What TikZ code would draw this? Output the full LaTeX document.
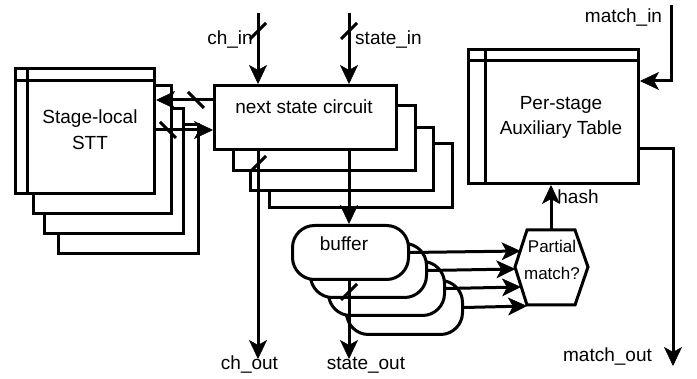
\documentclass[tikz,border=0pt]{standalone}
\usepackage{fontspec}
\setmainfont{Liberation Sans}
\usetikzlibrary{arrows.meta,calc}
\begin{document}
\begin{tikzpicture}[x=1pt,y=-1pt,
  lw/.style={line width=3pt},
  box/.style={draw, lw, fill=white, inner sep=0pt, anchor=north west},
  bufbox/.style={box, rounded corners=22pt},
  arr/.style={lw, -{Stealth[length=19pt,width=18pt,inset=5pt,line width=0.5pt]}},
  txt/.style={font=\fontsize{19}{25}\selectfont, inner sep=0pt},
  fsl/.pic={\draw[line width=3pt] (-8,8) -- (8,-8);},
  bsl/.pic={\draw[line width=3pt] (-8,-8) -- (8,8);}
]
\fill[white] (0,0) rectangle (697,379);
\useasboundingbox (0,0) rectangle (697,379);

% Stage-local STT stack
\node[box, minimum width=140, minimum height=129] (s4) at (57,123) {};
\node[box, minimum width=139, minimum height=125] (s3) at (43,107) {};
\node[box, minimum width=138, minimum height=128] (s2) at (32,84) {};
\node[box, minimum width=139, minimum height=125] (s1) at (14,67) {};
\draw[lw] ($(s1.north west)+(13,0)$) -- ($(s1.south west)+(13,0)$);
\draw[lw] ($(s1.north west)+(0,14)$) -- ($(s1.north east)+(0,14)$);
\node[txt, align=center, font=\fontsize{19}{26}\selectfont] (sttl) at (90,130) {Stage-local\\STT};

% next state circuit stack
\node[box, minimum width=183, minimum height=64] (n4) at (268,142) {};
\node[box, minimum width=183, minimum height=63] (n3) at (249,126) {};
\node[box, minimum width=182, minimum height=65] (n2) at (232,104) {};
\node[box, minimum width=182, minimum height=64] (n1) at (213,84) {};
\node[txt, anchor=base] (nscl) at (304,114) {next state circuit};

% buffers
\node[bufbox, minimum width=116, minimum height=54] (b4) at (345,279) {};
\node[bufbox, minimum width=116, minimum height=54] (b3) at (327,260) {};
\node[bufbox, minimum width=116, minimum height=54] (b2) at (309,242) {};
\node[bufbox, minimum width=116, minimum height=54] (b1) at (291,224) {};
\node[txt, anchor=base] (bufl) at (344,251) {buffer};

% Per-stage auxiliary table
\node[box, minimum width=170, minimum height=134] (t) at (467,48) {};
\draw[lw] ($(t.north west)+(18,0)$) -- ($(t.south west)+(18,0)$);
\draw[lw] ($(t.north west)+(0,13)$) -- ($(t.north east)+(0,13)$);
\node[txt, align=center] (tl) at (561,117) {Per-stage\\Auxiliary Table};

% Partial match hexagon
\coordinate (hL) at (515,267);
\coordinate (hTL) at (527,230);
\coordinate (hTR) at (575,230);
\coordinate (hR) at (588,267);
\coordinate (hBR) at (575,305);
\coordinate (hBL) at (527,305);
\coordinate (hT) at (551,230);
\draw[lw, fill=white, line join=miter] (hL) -- (hTL) -- (hTR) -- (hR) -- (hBR) -- (hBL) -- cycle;
\node[txt, align=center, font=\fontsize{17}{27}\selectfont] (pm) at (552,260) {Partial\\match?};
\coordinate (h1) at (520.5,251);
\coordinate (h2) at (515.3,269);
\coordinate (h3) at (521,287);
\coordinate (h4) at (527,306);

% free ends and levels
\coordinate (chin) at (258,13);
\coordinate (stin) at (349,13);
\coordinate (chout) at (258,359);
\coordinate (stout) at (349,359);
\coordinate (mtin) at (671,5);
\coordinate (mtout) at (673,366);
\coordinate (yA) at (0,100);
\coordinate (yB) at (0,130);
\coordinate (yM) at (0,81);
\coordinate (yO) at (0,149);

% connectors
\draw[arr] (chin) -- (chin |- n1.north);
\pic at (258,31) {fsl};
\draw[arr] (stin) -- (stin |- n1.north);
\pic at (349,31) {fsl};
\draw[arr] (n1.west |- yA) -- (s1.east |- yA);
\pic at (196,100) {bsl};
\draw[arr] (s1.east |- yB) -- (n1.west |- yB);
\pic at (168,130) {bsl};
\draw[arr] (chin |- n1.south) -- (chout);
\pic at (258,164) {fsl};
\draw[arr] (stin |- n1.south) -- (stin |- b1.north);
\draw[arr] (stin |- b1.south) -- (stout);
\pic at (349,292) {fsl};
\draw[arr] (b1.east) -- (h1);
\draw[arr] (b2.east) -- (h2);
\draw[arr] (b3.east) -- (h3);
\draw[arr] (b4.east) -- (h4);
\draw[arr] (hT) -- (hT |- t.south);
\draw[arr] (mtin) |- (t.east |- yM);
\draw[arr] (t.east |- yO) -| (mtout);

% labels
\node[txt, anchor=base] (lchin) at (230,45) {ch\_in};
\node[txt, anchor=base] (lstin) at (388.5,45) {state\_in};
\node[txt, anchor=base] (lchout) at (249.5,370) {ch\_out};
\node[txt, anchor=base] (lstout) at (366,370) {state\_out};
\node[txt, anchor=base] (lhash) at (578,204) {hash};
\node[txt, anchor=base] (lmin) at (623.5,23) {match\_in};
\node[txt, anchor=base] (lmout) at (607.5,362) {match\_out};
\end{tikzpicture}
\end{document}
